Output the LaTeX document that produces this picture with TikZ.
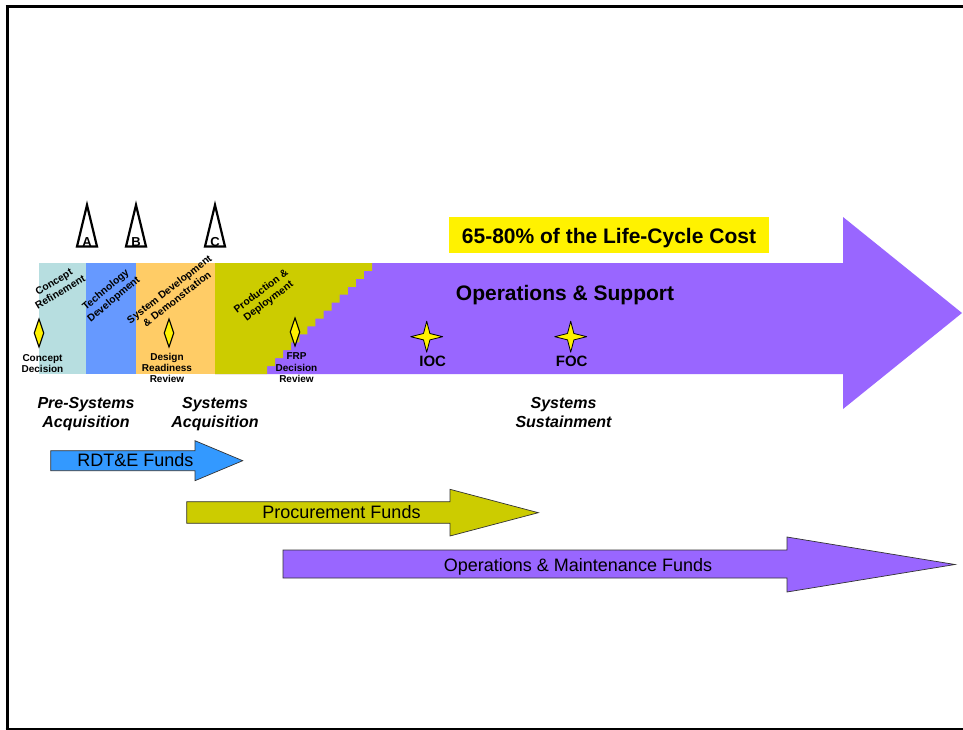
\documentclass[tikz,border=0pt]{standalone}
\usepackage{fontspec}
\setmainfont{Liberation Sans}
\definecolor{crcol}{RGB}{183,222,224}
\definecolor{tdcol}{RGB}{102,153,255}
\definecolor{sddcol}{RGB}{255,204,102}
\definecolor{pdcol}{RGB}{204,204,0}
\definecolor{oscol}{RGB}{153,102,255}
\definecolor{rdtecol}{RGB}{51,153,255}
\begin{document}
\begin{tikzpicture}[x=1pt,y=-1pt,
  lbl/.style={inner sep=0, align=center, font=\bfseries\fontsize{10}{11.3}\selectfont},
  phaselbl/.style={inner sep=0, align=center, font=\bfseries\fontsize{10.3}{12.3}\selectfont},
  era/.style={inner sep=0, align=center, font=\bfseries\itshape\fontsize{16}{19}\selectfont},
  fund/.style={inner sep=0, anchor=base, font=\fontsize{18}{20}\selectfont},
  fundarrow/.style={draw=black!80, line width=0.7pt, line join=miter},
  milestone/.style={draw=black, line width=2.2pt, fill=white, line join=miter},
  msletter/.style={inner sep=0, anchor=base, font=\bfseries\fontsize{13}{13}\selectfont},
  decision/.style={draw=black, line width=1.1pt, fill=yellow},
  sparkle/.style={draw=black, line width=0.8pt, fill=yellow, line join=round},
  big/.style={inner sep=0, anchor=base, font=\bfseries\fontsize{21}{24}\selectfont}]
\useasboundingbox (0,0) rectangle (963,730);
\fill[white] (0,0) rectangle (963,730);

% frame
\draw[line width=3pt] (5.5,7) -- (963,7);
\draw[line width=3pt] (7,5.5) -- (7,730);
\draw[line width=1.5pt] (5.5,728.8) -- (963,728.8);

% life-cycle arrow
\fill[oscol] (215,263) -- (843,263) -- (843,217) -- (962,313) -- (843,409)
  -- (843,374) -- (215,374) -- cycle;
\fill[crcol] (39,263) rectangle (86,374);
\fill[tdcol] (86,263) rectangle (136,374);
\fill[sddcol] (136,263) rectangle (215,374);
\fill[pdcol] (215,263) -- (372,263)
  \foreach \k in {0,...,12} {
    -- ({372-\k*8.077},{263+(\k+1)*7.929}) -- ({372-(\k+1)*8.077},{263+(\k+1)*7.929})
  } -- (267,374) -- (215,374) -- cycle;

% cost banner
\fill[yellow] (449,217) rectangle (769,253);
\node[big] (cost) at (609,243.3) {65-80\% of the Life-Cycle Cost};
\node[big] (ops) at (565,300) {Operations \& Support};

% phase labels
\node[phaselbl, rotate=31] (cr) at (57,287) {Concept\\Refinement};
\node[phaselbl, rotate=40] (td) at (110,295) {Technology\\Development};
\node[phaselbl, rotate=38] (sdd) at (173,294) {System Development\\\& Demonstration};
\node[phaselbl, rotate=37] (pd) at (265,296.5) {Production \&\\Deployment};

% milestones A, B, C
\draw[milestone] (87,205) -- (97,246.5) -- (77,246.5) -- cycle;
\node[msletter] (msA) at (87,246) {A};
\draw[milestone] (136,205) -- (146,246.5) -- (126,246.5) -- cycle;
\node[msletter] (msB) at (136,246) {B};
\draw[milestone] (215,205) -- (225,246.5) -- (205,246.5) -- cycle;
\node[msletter] (msC) at (215,246) {C};

% decision points
\draw[decision] (39,319) -- (43.7,333) -- (39,347) -- (34.3,333) -- cycle;
\node[lbl, anchor=north] (cd) at (42.5,354.4) {Concept\\Decision};
\draw[decision] (169,319) -- (173.7,333) -- (169,347) -- (164.3,333) -- cycle;
\node[lbl, anchor=north] (drr) at (167,352.7) {Design\\Readiness\\Review};
\draw[decision] (295,318) -- (299.7,332) -- (295,346) -- (290.3,332) -- cycle;
\node[lbl, anchor=north] (frp) at (296.5,352.7) {FRP\\Decision\\Review};

% IOC / FOC
\draw[sparkle] (426.7,336.7) +(16,0) -- +(3.2,-3.2) -- +(0,-15.5) -- +(-3.2,-3.2)
  -- +(-16,0) -- +(-3.2,3.2) -- +(0,15.5) -- +(3.2,3.2) -- cycle;
\node[inner sep=0, anchor=base, font=\bfseries\fontsize{15}{17}\selectfont] (ioc) at (432.7,366.7) {IOC};
\draw[sparkle] (570.7,336.7) +(16,0) -- +(3.2,-3.2) -- +(0,-15.5) -- +(-3.2,-3.2)
  -- +(-16,0) -- +(-3.2,3.2) -- +(0,15.5) -- +(3.2,3.2) -- cycle;
\node[inner sep=0, anchor=base, font=\bfseries\fontsize{15}{17}\selectfont] (foc) at (571.7,366.7) {FOC};

% acquisition eras
\node[era, anchor=north] (pre) at (86,397.5) {Pre-Systems\\Acquisition};
\node[era, anchor=north] (sa) at (215,397.5) {Systems\\Acquisition};
\node[era, anchor=north] (ss) at (563.5,397) {Systems\\Sustainment};

% funding arrows
\draw[fundarrow, fill=rdtecol] (50.7,450.7) -- (195,450.7) -- (195,440.7) -- (242.7,460.7)
  -- (195,480.7) -- (195,470.7) -- (50.7,470.7) -- cycle;
\node[fund] (rdte) at (135.5,466.7) {RDT\&E Funds};
\draw[fundarrow, fill=pdcol] (186.7,501.7) -- (450,501.7) -- (450,489.3) -- (538.3,512.7)
  -- (450,536) -- (450,523.3) -- (186.7,523.3) -- cycle;
\node[fund] (proc) at (341.5,518.5) {Procurement Funds};
\draw[fundarrow, fill=oscol] (283,550) -- (787,550) -- (787,537) -- (955,564.5)
  -- (787,592) -- (787,578) -- (283,578) -- cycle;
\node[fund] (om) at (578,571) {Operations \& Maintenance Funds};
\end{tikzpicture}
\end{document}
